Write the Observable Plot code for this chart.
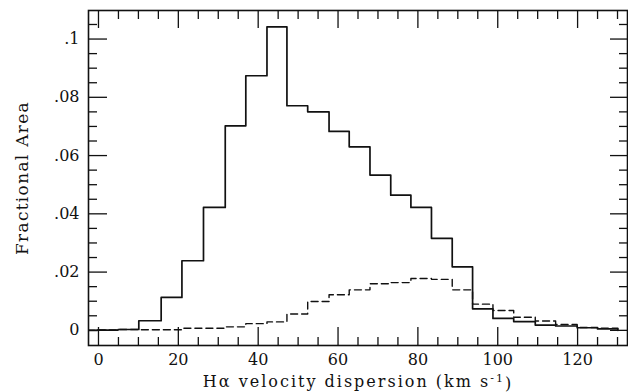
<!DOCTYPE html>
<html><head><meta charset="utf-8">
<script src="https://cdn.jsdelivr.net/npm/d3@7"></script>
<script src="https://cdn.jsdelivr.net/npm/@observablehq/plot@0.6"></script>
<style>body{margin:0;background:#fff}</style>
</head><body><div id="chart"></div>
<script>
// Bin edges (km/s)
const binEdges = [-5.5, -0.3, 4.9, 10.1, 15.7, 20.9, 26.3, 31.75, 36.9, 42.2, 47.2, 52.4, 57.75, 62.8, 68, 73.2, 78.25, 83.4, 88.6, 93.7, 98.8, 104, 109.4, 114.5, 119.9, 125, 130.1];
// Solid histogram: fractional area per bin
const solidArea = [0, 0.0001, 0.0003, 0.0033, 0.0113, 0.0239, 0.0422, 0.0702, 0.0874, 0.1042, 0.0771, 0.075, 0.0683, 0.063, 0.0533, 0.0464, 0.0422, 0.0316, 0.0218, 0.0074, 0.0041, 0.003, 0.0018, 0.0015, 0.0009, 0.0005];
// Dashed histogram: fractional area per bin
const dashedArea = [0, 0.0001, 0.0003, 0.0002, 0.0002, 0.0007, 0.0007, 0.0012, 0.0023, 0.0029, 0.0056, 0.0099, 0.0122, 0.0139, 0.016, 0.0164, 0.0178, 0.0175, 0.0139, 0.009, 0.0068, 0.0045, 0.0032, 0.002, 0.001, 0.0007];

const xMajorTicks = [0, 20, 40, 60, 80, 100, 120];
const xMinorTicks = [5, 10, 15, 25, 30, 35, 45, 50, 55, 65, 70, 75, 85, 90, 95, 105, 110, 115, 125, 130];
const yMajorTicks = [0, 0.02, 0.04, 0.06, 0.08, 0.1];
const yTickLabels = ["0", ".02", ".04", ".06", ".08", ".1"];
const yMinorTicks = [0.005, 0.01, 0.015, 0.025, 0.03, 0.035, 0.045, 0.05, 0.055, 0.065, 0.07, 0.075, 0.085, 0.09, 0.095, 0.105];
const xTitle = "Hα velocity dispersion (km s";
const xTitleSup = "-1";
const xTitleEnd = ")";
const yTitle = "Fractional Area";

function steps(values, dropEnd) {
  const pts = values.map((v, i) => ({x: binEdges[i], y: v}));
  const last = binEdges[binEdges.length - 1];
  pts.push({x: last, y: values[values.length - 1]});
  if (dropEnd) pts.push({x: last, y: 0});
  return pts;
}

const W = 628, H = 392, mL = 88, mR = 1, mT = 10, mB = 47;
const PW = W - mL - mR, PH = H - mT - mB;
const ink = "#111";

const chart = Plot.plot({
  width: W, height: H,
  marginLeft: mL, marginRight: mR, marginTop: mT, marginBottom: mB,
  style: {fontFamily: "'DejaVu Serif', serif", fontSize: "16px", background: "white", color: ink},
  x: {domain: [-2.5, 132.5]},
  y: {domain: [-0.0052, 0.1098]},
  marks: [
    Plot.line(steps(dashedArea, false), {x: "x", y: "y", curve: "step-after", stroke: ink, strokeWidth: 1.4, strokeDasharray: "7,4", clip: true}),
    Plot.line(steps(solidArea, true), {x: "x", y: "y", curve: "step-after", stroke: ink, strokeWidth: 1.7, clip: true}),
    // inward ticks on all four sides
    Plot.tickX(xMinorTicks, {x: d => d, insetTop: PH - 8, stroke: ink, strokeWidth: 1.3}),
    Plot.tickX(xMajorTicks, {x: d => d, insetTop: PH - 18, stroke: ink, strokeWidth: 1.3}),
    Plot.tickX(xMinorTicks, {x: d => d, insetBottom: PH - 9, stroke: ink, strokeWidth: 1.3}),
    Plot.tickX(xMajorTicks, {x: d => d, insetBottom: PH - 18, stroke: ink, strokeWidth: 1.3}),
    Plot.tickY(yMinorTicks, {y: d => d, insetRight: PW - 9, stroke: ink, strokeWidth: 1.3}),
    Plot.tickY(yMajorTicks, {y: d => d, insetRight: PW - 19, stroke: ink, strokeWidth: 1.3}),
    Plot.tickY(yMinorTicks, {y: d => d, insetLeft: PW - 8, stroke: ink, strokeWidth: 1.3}),
    Plot.tickY(yMajorTicks, {y: d => d, insetLeft: PW - 17, stroke: ink, strokeWidth: 1.3}),
    Plot.frame({stroke: ink, strokeWidth: 1.6}),
    Plot.axisX(xMajorTicks, {tickSize: 0, tickPadding: 8, label: null, fontSize: 16, fill: ink}),
    Plot.axisY(yMajorTicks, {tickSize: 0, tickPadding: 9, label: null, fontSize: 16, fill: ink,
      tickFormat: d => yTickLabels[yMajorTicks.indexOf(d)]}),
    Plot.text([xTitle], {text: d => d, frameAnchor: "bottom", textAnchor: "middle", dy: 36, lineAnchor: "middle", fontSize: 16, fill: ink}),
    Plot.text([yTitle], {text: d => d, frameAnchor: "left", textAnchor: "middle", dx: -66, rotate: -90, lineAnchor: "middle", fontSize: 17, fill: ink})
  ]
});

// letter spacing + superscript in the x title
d3.select(chart).selectAll("text").each(function() {
  const t = d3.select(this);
  const s = this.textContent;
  if (s === xTitle) {
    t.text(null).style("letter-spacing", "2px");
    t.append("tspan").text(xTitle);
    t.append("tspan").attr("dy", "-0.4em").attr("font-size", "11px").text(xTitleSup);
    t.append("tspan").attr("dy", "0.4em").text(xTitleEnd);
  } else if (s === yTitle) {
    t.style("letter-spacing", "1.3px");
  }
});

document.getElementById("chart").append(chart);
</script>
</body></html>
